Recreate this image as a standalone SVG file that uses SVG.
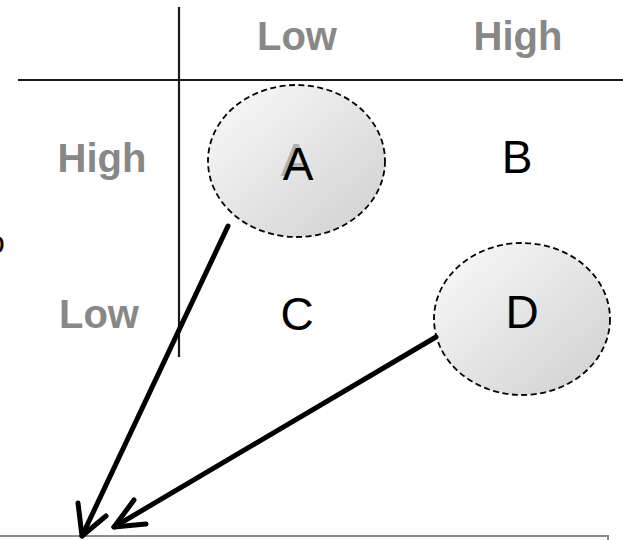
<svg xmlns="http://www.w3.org/2000/svg" width="623" height="540" viewBox="0 0 623 540">
  <style>
    .axis { stroke: #1a1a1a; stroke-width: 2.2; fill: none; }
    .hdr { font-family: "Liberation Sans", Arial, sans-serif; font-weight: bold; font-size: 40px; fill: #888888; text-anchor: middle; }
    .cell { font-family: "Liberation Sans", Arial, sans-serif; font-size: 46px; fill: #000000; text-anchor: middle; }
    .ghost { fill: #b0b0b0; }
    .bubble { fill: url(#bubbleFill); stroke: #000000; stroke-width: 1.8; stroke-dasharray: 6 3.5; }
    .arrow { stroke: #000000; stroke-width: 5; fill: none; stroke-linecap: round; stroke-linejoin: round; }
    .panel { fill: #ffffff; stroke: #8c8c8c; stroke-width: 2; }
  </style>
  <defs>
    <linearGradient id="bubbleFill" x1="0" y1="0" x2="1" y2="1">
      <stop offset="0" stop-color="#fbfbfb"/>
      <stop offset="1" stop-color="#cfcfcf"/>
    </linearGradient>
  </defs>

  <rect width="623" height="540" fill="#ffffff"/>

  <!-- fragment of an off-canvas label at the left edge -->
  <text x="-13" y="253" font-family="Liberation Sans, Arial, sans-serif" font-size="32" fill="#000000">o</text>

  <!-- grid axes -->
  <g id="axes">
    <line class="axis" x1="179" y1="7" x2="179" y2="357"/>
    <line class="axis" x1="18" y1="80" x2="623" y2="80"/>
  </g>

  <!-- column and row headings -->
  <g id="col-low"><text class="hdr" x="297" y="50">Low</text></g>
  <g id="col-high"><text class="hdr" x="518" y="50">High</text></g>
  <g id="row-high"><text class="hdr" x="102" y="172">High</text></g>
  <g id="row-low"><text class="hdr" x="99" y="328">Low</text></g>

  <!-- quadrant cells -->
  <g id="node-a">
    <ellipse class="bubble" cx="296.5" cy="161" rx="88.5" ry="76"/>
    <text class="cell ghost" x="296" y="176">A</text>
    <text class="cell" x="298" y="180">A</text>
  </g>
  <g id="node-b"><text class="cell" x="517" y="173">B</text></g>
  <g id="node-c"><text class="cell" x="297" y="330">C</text></g>
  <g id="node-d">
    <ellipse class="bubble" cx="522" cy="319" rx="88" ry="76"/>
    <text class="cell" x="522" y="328">D</text>
  </g>

  <!-- lower panel -->
  <g id="panel">
    <rect class="panel" x="-2" y="536" width="610" height="20"/>
  </g>

  <!-- connectors -->
  <g id="connectors">
    <line class="arrow" x1="228" y1="226" x2="82" y2="536"/>
    <polyline class="arrow" points="78,503 82,536 106,516"/>
    <line class="arrow" x1="436" y1="337" x2="114" y2="527"/>
    <polyline class="arrow" points="134,500 114,527 146,524"/>
  </g>
</svg>
